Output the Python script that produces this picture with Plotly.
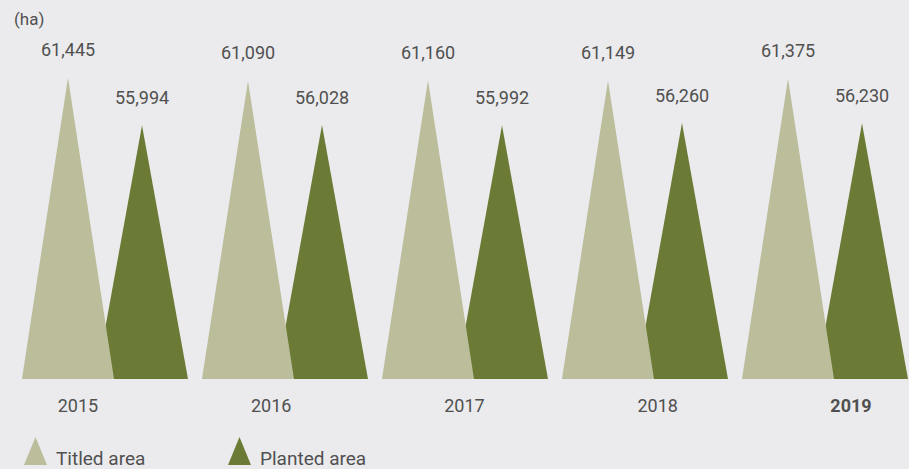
import plotly.graph_objects as go

# Area figures per year (ha)
years = ["2015", "2016", "2017", "2018", "2019"]
titled_area = [61445, 61090, 61160, 61149, 61375]
planted_area = [55994, 56028, 55992, 56260, 56230]

# Styling
BG = "#EBEBED"
TEXT = "#505050"
TITLED_COLOR = "#BBBD9B"
PLANTED_COLOR = "#6B7B35"
FONT = "Roboto, Arial, sans-serif"

W, H = 909, 469
MARGIN_B = 90
PLOT_H = H - MARGIN_B

Y_MIN, Y_MAX = 26873, 70382      # value axis, baseline sits at Y_MIN
X_RANGE = [-0.5833, 4.4667]      # one unit per year group
X2_RANGE = [-0.4036, 4.3003]     # year labels run on a slightly wider scale
OFFSET = 0.2056                  # apex distance from group centre
HALF_W = 0.2556                  # half of a triangle's base width


def triangle(center, value):
    xs = [center - HALF_W, center, center + HALF_W, center - HALF_W]
    ys = [Y_MIN, value, Y_MIN, Y_MIN]
    return xs, ys


fig = go.Figure()

# planted triangles sit beneath the titled ones
for series, color, sign, name in [
    (planted_area, PLANTED_COLOR, +1, "Planted area"),
    (titled_area, TITLED_COLOR, -1, "Titled area"),
]:
    for i, v in enumerate(series):
        xs, ys = triangle(i + sign * OFFSET, v)
        fig.add_trace(go.Scatter(
            x=xs, y=ys, mode="lines", fill="toself", fillcolor=color,
            line=dict(width=0, color=color), hoverinfo="skip",
            showlegend=False, name=name,
        ))

annotations = []
for series, sign in [(titled_area, -1), (planted_area, +1)]:
    for i, v in enumerate(series):
        annotations.append(dict(
            x=i + sign * OFFSET, y=v, xref="x", yref="y",
            text=f"{v:,}", showarrow=False, yanchor="middle", yshift=28,
            font=dict(family=FONT, size=18, color=TEXT),
        ))

# carrier trace for the year-label axis
fig.add_trace(go.Scatter(
    x=list(range(len(years))), y=[Y_MIN] * len(years), xaxis="x2",
    mode="markers", marker=dict(opacity=0), hoverinfo="skip", showlegend=False,
))


def px(x):
    return x / W


def py(y):
    return (PLOT_H - y) / PLOT_H


# unit label
annotations.append(dict(
    x=px(12), y=py(19), xref="paper", yref="paper", xanchor="left",
    yanchor="middle", text="(ha)", showarrow=False,
    font=dict(family=FONT, size=17, color=TEXT),
))

# legend: triangle glyph + text
shapes = []
for x0, color, label in [(24, TITLED_COLOR, "Titled area"),
                         (228, PLANTED_COLOR, "Planted area")]:
    path = (f"M {px(x0)},{py(465)} L {px(x0 + 11.5)},{py(437)} "
            f"L {px(x0 + 23)},{py(465)} Z")
    shapes.append(dict(type="path", path=path, xref="paper", yref="paper",
                       fillcolor=color, line=dict(width=0)))
    annotations.append(dict(
        x=px(x0 + 30), y=py(458), xref="paper", yref="paper",
        xanchor="left", yanchor="middle", text=label, showarrow=False,
        font=dict(family=FONT, size=19, color=TEXT),
    ))

tick_text = years[:-1] + [f"<b>{years[-1]}</b>"]

fig.update_layout(
    width=W, height=H,
    margin=dict(l=0, r=0, t=0, b=MARGIN_B),
    paper_bgcolor=BG, plot_bgcolor=BG,
    showlegend=False,
    xaxis=dict(range=X_RANGE, showgrid=False, zeroline=False,
               showticklabels=False, fixedrange=True),
    xaxis2=dict(range=X2_RANGE, overlaying="x", side="bottom", anchor="y",
                showgrid=False, zeroline=False,
                tickvals=list(range(len(years))), ticktext=tick_text,
                ticks="outside", ticklen=10, tickcolor="rgba(0,0,0,0)",
                tickfont=dict(family=FONT, size=18, color=TEXT)),
    yaxis=dict(range=[Y_MIN, Y_MAX], showgrid=False, zeroline=False,
               showticklabels=False, fixedrange=True),
    annotations=annotations,
    shapes=shapes,
)

fig.write_html("out.html")
